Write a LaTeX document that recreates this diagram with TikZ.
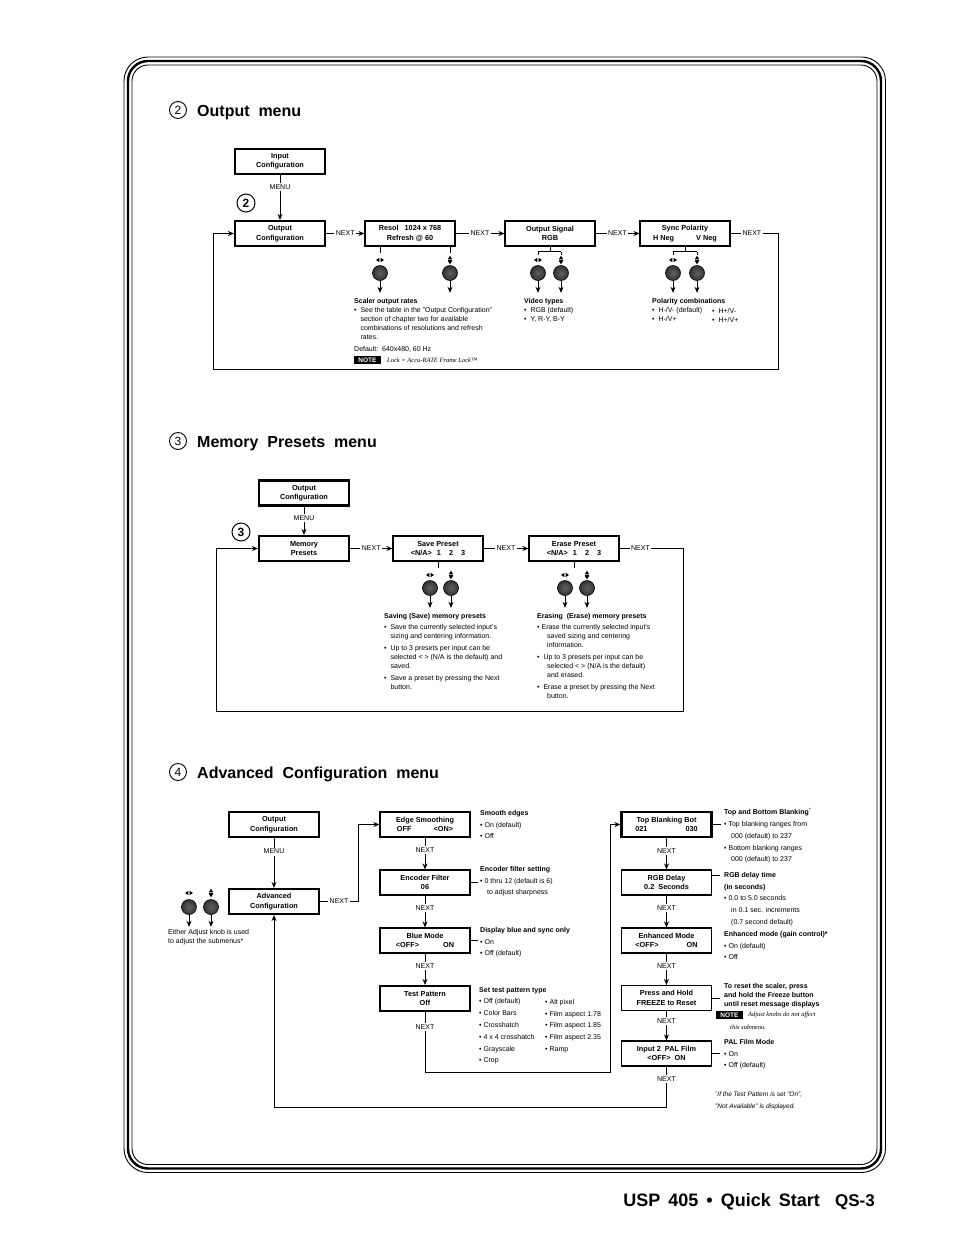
\documentclass[tikz,border=0pt]{standalone}
\usepackage{fontspec}
\setmainfont{Liberation Sans}
\newfontfamily\notefont{Liberation Serif}
\usetikzlibrary{arrows.meta}

\tikzset{
  menubox/.style={draw, line width=2.2pt, minimum width=90pt, minimum height=25pt, align=center, inner sep=1pt, font=\bfseries\fontsize{7.3}{9.5}\selectfont},
  subbox/.style={menubox, line width=1.2pt},
  flow/.style={line width=0.8pt, -{Stealth[length=6pt,width=5pt]}},
  link/.style={line width=0.8pt},
  lbl/.style={fill=white, inner sep=1.5pt, font=\fontsize{7}{8}\selectfont},
  knob/.style={circle, draw, line width=0.6pt, minimum size=15pt, inner sep=0pt, shading=radial, inner color=gray!75!black, outer color=gray!40!black},
  desc/.style={anchor=north west, inner sep=0pt, align=left, font=\fontsize{7}{9}\selectfont},
  descwide/.style={desc, font=\fontsize{7}{11.8}\selectfont},
  notetag/.style={fill=black, text=white, inner sep=0pt, minimum width=27pt, minimum height=8.5pt, font=\bfseries\fontsize{6.5}{7}\selectfont},
  notetxt/.style={anchor=west, inner sep=0pt, font=\notefont\itshape\fontsize{6.5}{8}\selectfont},
  numcirc/.style={circle, draw, line width=0.9pt, minimum size=17pt, inner sep=0pt, font=\fontsize{12}{12}\selectfont},
  bigcirc/.style={numcirc, line width=1pt, minimum size=18pt, font=\bfseries\fontsize{12}{12}\selectfont},
  heading/.style={anchor=base west, inner sep=0pt, font=\bfseries\fontsize{16}{18}\selectfont},
  lrmark/.pic={\fill (-0.6,-2.2) -- (-0.6,2.2) -- (-4,0) -- cycle;
    \fill (0.6,-2.2) -- (0.6,2.2) -- (4,0) -- cycle;},
  udmark/.pic={\fill (-2.2,-0.7) -- (2.2,-0.7) -- (0,-4.3) -- cycle;
    \fill (-2.2,0.7) -- (2.2,0.7) -- (0,4.3) -- cycle;
    \draw[line width=0.4pt] (-2.2,0) -- (2.2,0);}
}

\begin{document}
\begin{tikzpicture}[x=1pt, y=-1pt]
  \useasboundingbox (0,0) rectangle (954,1235);

  % Page frame (three rounded lines)
  \draw[line width=0.9pt, rounded corners=24pt] (124,57) rectangle (885.5,1172.5);
  \draw[line width=2.4pt, rounded corners=20pt] (128,61) rectangle (881,1168.5);
  \draw[line width=0.9pt, rounded corners=16pt] (132,65) rectangle (877,1164.5);

  % ---------------- Output menu ----------------
  \node[numcirc] (h2) at (178,110) {2};
  \node[heading] (h2txt) at (197,116) {Output\ \ menu};

  \node[menubox] (inpcfg) at (280,161.5) {Input\\Configuration};
  \node[menubox] (outcfg) at (280,233.5) {Output\\Configuration};
  \node[bigcirc] (mark2) at (246,203) {2};
  \node[subbox] (resol) at (410,233.5) {Resol\hspace{6pt}1024 x 768\\Refresh @ 60};
  \node[subbox] (osig) at (550,233.5) {Output Signal\\RGB};
  \node[subbox] (sync) at (685,233.5) {Sync Polarity\\H Neg\hspace{22pt}V Neg};

  \draw[flow] (inpcfg) -- node[lbl, pos=0.27] {MENU} (outcfg);
  \draw[flow] (outcfg) -- node[lbl] {NEXT} (resol);
  \draw[flow] (resol) -- node[lbl] {NEXT} (osig);
  \draw[flow] (osig) -- node[lbl] {NEXT} (sync);
  \coordinate (loopR2) at (778,369);
  \coordinate (loopL2) at (213,369);
  \draw[flow] (sync.east) -- node[lbl, pos=0.45] {NEXT} (sync.east -| loopR2) -- (loopR2) -- (loopL2) |- (outcfg.west); % back to the top

  % Knobs under the submenus
  \node[knob] (kres1) at (380,273) {};
  \node[knob] (kres2) at (450,273) {};
  \node[knob] (ksig1) at (538,273) {};
  \node[knob] (ksig2) at (561,273) {};
  \node[knob] (ksyn1) at (673,273) {};
  \node[knob] (ksyn2) at (697,273) {};
  \pic at (380,260) {lrmark};
  \pic at (450,260) {udmark};
  \pic at (538,260) {lrmark};
  \pic at (561,260) {udmark};
  \pic at (673,260) {lrmark};
  \pic at (697,260) {udmark};
  \draw[link] (resol.south -| kres1) -- ++(0,6);
  \draw[link] (resol.south -| kres2) -- ++(0,6);
  \draw[link] (osig.south) -- ++(0,5) coordinate (bsig);
  \draw[link] (bsig -| ksig1) -- (bsig -| ksig2);
  \draw[link] (bsig -| ksig1) -- ++(0,3);
  \draw[link] (bsig -| ksig2) -- ++(0,3);
  \draw[link] (sync.south) -- ++(0,5) coordinate (bsyn);
  \draw[link] (bsyn -| ksyn1) -- (bsyn -| ksyn2);
  \draw[link] (bsyn -| ksyn1) -- ++(0,3);
  \draw[link] (bsyn -| ksyn2) -- ++(0,3);
  \foreach \k in {kres1,kres2,ksig1,ksig2,ksyn1,ksyn2}
    \draw[flow] (\k.south) -- ++(0,12);

  % Notes under the knobs
  \node[desc] (scaler) at (354,298) {\textbf{Scaler output rates}\\
    •\ \ See the table in the "Output Configuration"\\
    \phantom{•\ \ }section of chapter two for available\\
    \phantom{•\ \ }combinations of resolutions and refresh\\
    \phantom{•\ \ }rates.\\[3pt]
    Default:\ \ 640x480, 60 Hz};
  \node[notetag] (note1) at (367.5,360) {NOTE};
  \node[notetxt] (lock) at (387,360) {Lock = Accu-RATE Frame Lock™};
  \node[desc] (video) at (524,298) {\textbf{Video types}\\•\ \ RGB (default)\\•\ \ Y, R-Y, B-Y};
  \node[desc] (polar) at (652,298) {\textbf{Polarity combinations}\\•\ \ H-/V- (default)\\•\ \ H-/V+};
  \node[desc] (polar2) at (712,308) {•\ \ H+/V-\\•\ \ H+/V+};

  % ---------------- Memory Presets menu ----------------
  \node[numcirc] (h3) at (178,441) {3};
  \node[heading] (h3txt) at (197,447) {Memory\ \ Presets\ \ menu};

  \node[menubox] (mocfg) at (304,493) {Output\\Configuration};
  \node[menubox] (mem) at (304,548.5) {Memory\\Presets};
  \node[bigcirc] (mark3) at (241,532) {3};
  \node[subbox] (save) at (438,548.5) {Save Preset\\<N/A>\hspace{5pt}1\hspace{8pt}2\hspace{8pt}3};
  \node[subbox] (erase) at (574,548.5) {Erase Preset\\<N/A>\hspace{5pt}1\hspace{8pt}2\hspace{8pt}3};

  \draw[flow] (mocfg) -- node[lbl, pos=0.4] {MENU} (mem);
  \draw[flow] (mem) -- node[lbl] {NEXT} (save);
  \draw[flow] (save) -- node[lbl] {NEXT} (erase);
  \coordinate (loopR3) at (683,711);
  \coordinate (loopL3) at (216,711);
  \draw[flow] (erase.east) -- node[lbl, pos=0.33] {NEXT} (erase.east -| loopR3) -- (loopR3) -- (loopL3) |- (mem.west);

  \node[knob] (ksav1) at (430,588) {};
  \node[knob] (ksav2) at (451,588) {};
  \node[knob] (kera1) at (565,588) {};
  \node[knob] (kera2) at (587,588) {};
  \pic at (430,575) {lrmark};
  \pic at (451,575) {udmark};
  \pic at (565,575) {lrmark};
  \pic at (587,575) {udmark};
  \draw[link] (save.south) -- ++(0,6);
  \draw[link] (erase.south) -- ++(0,6);
  \foreach \k in {ksav1,ksav2,kera1,kera2}
    \draw[flow] (\k.south) -- ++(0,12);

  \node[desc] (savetxt) at (384,613) {\textbf{Saving (Save) memory presets}\\[2pt]
    •\ \ Save the currently selected input's\\
    \phantom{•\ \ }sizing and centering information.\\[3pt]
    •\ \ Up to 3 presets per input can be\\
    \phantom{•\ \ }selected < > (N/A is the default) and\\
    \phantom{•\ \ }saved.\\[3pt]
    •\ \ Save a preset by pressing the Next\\
    \phantom{•\ \ }button.};
  \node[desc] (erasetxt) at (537,613) {\textbf{Erasing\ \ (Erase) memory presets}\\[2pt]
    • Erase the currently selected input's\\
    \hspace*{10pt}saved sizing and centering\\
    \hspace*{10pt}information.\\[3pt]
    •\ \ Up to 3 presets per input can be\\
    \hspace*{10pt}selected < > (N/A is the default)\\
    \hspace*{10pt}and erased.\\[3pt]
    •\ \ Erase a preset by pressing the Next\\
    \hspace*{10pt}button.};

  % ---------------- Advanced Configuration menu ----------------
  \node[numcirc] (h4) at (178,772) {4};
  \node[heading] (h4txt) at (197,778) {Advanced\ \ Configuration\ \ menu};

  \node[menubox] (aocfg) at (274,824.5) {Output\\Configuration};
  \node[menubox] (adv) at (274,901.5) {Advanced\\Configuration};
  \node[subbox] (edge) at (425,824.5) {Edge Smoothing\\OFF\hspace{22pt}<ON>};
  \node[subbox] (enc) at (425,882.5) {Encoder Filter\\06};
  \node[subbox] (blue) at (425,940.5) {Blue Mode\\<OFF>\hspace{24pt}ON};
  \node[menubox] (test) at (425,998.5) {Test Pattern\\Off};
  \node[menubox] (topb) at (666.5,824.5) {Top Blanking Bot\\021\hspace{38pt}030};
  \node[subbox] (rgbd) at (666.5,882.5) {RGB Delay\\0.2\ \ Seconds};
  \node[subbox] (enh) at (666.5,940.5) {Enhanced Mode\\<OFF>\hspace{28pt}ON};
  \node[subbox] (press) at (666.5,998) {Press and Hold\\FREEZE to Reset};
  \node[subbox] (pal) at (666.5,1053.5) {Input 2\ \ PAL Film\\<OFF>\ \ ON};

  \draw[flow] (aocfg) -- node[lbl, pos=0.27] {MENU} (adv);
  \coordinate (jumpA) at (358,826);
  \draw[flow] (adv.east) -- node[lbl] {NEXT} (adv.east -| jumpA) |- (edge.west);
  \draw[flow] (edge) -- node[lbl, pos=0.4] {NEXT} (enc);
  \draw[flow] (enc) -- node[lbl, pos=0.4] {NEXT} (blue);
  \draw[flow] (blue) -- node[lbl, pos=0.4] {NEXT} (test);
  \coordinate (jumpB) at (610,1072);
  \draw[flow] (test.south) -- node[lbl, pos=0.25] {NEXT} (test.south |- jumpB) -- (jumpB) |- (topb.west);
  \draw[flow] (topb) -- node[lbl, pos=0.4] {NEXT} (rgbd);
  \draw[flow] (rgbd) -- node[lbl, pos=0.4] {NEXT} (enh);
  \draw[flow] (enh) -- node[lbl, pos=0.4] {NEXT} (press);
  \draw[flow] (press) -- node[lbl, pos=0.35] {NEXT} (pal);
  \coordinate (backR) at (666.5,1107);
  \coordinate (backL) at (274,1107);
  \draw[flow] (pal.south) -- node[lbl, pos=0.3] {NEXT} (backR) -- (backL) -- (adv.south); % back to Advanced

  % small ticks from boxes to their notes
  \draw[link] (enc.east) -- ++(7,0);
  \draw[link] (blue.east) -- ++(7,0);
  \draw[link] (topb.east) -- ++(8,0);
  \draw[link] ([yshift=7pt]rgbd.east) -- ++(8,0);
  \draw[link] (press.east) -- ++(8,0);
  \draw[link] (pal.east) -- ++(8,0);

  % Adjust knobs on the left
  \node[knob] (kadv1) at (189,907) {};
  \node[knob] (kadv2) at (211,907) {};
  \pic at (189,893) {lrmark};
  \pic at (211,893) {udmark};
  \draw[flow] (kadv1.south) -- ++(0,12);
  \draw[flow] (kadv2.south) -- ++(0,12);
  \node[desc] (eithertxt) at (168,929) {Either Adjust knob is used\\to adjust the submenus*};

  % Notes, first column
  \node[descwide] (smoothtxt) at (480,810) {\textbf{Smooth edges}\\• On (default)\\• Off};
  \node[descwide] (enctxt) at (480,866) {\textbf{Encoder filter setting}\\• 0 thru 12 (default is 6)\\\hspace*{7pt}to adjust sharpness};
  \node[descwide] (bluetxt) at (480,927) {\textbf{Display blue and sync only}\\• On\\• Off (default)};
  \node[descwide] (testtxt) at (479,987) {\textbf{Set test pattern type}\\• Off (default)\\• Color Bars\\• Crosshatch\\• 4 x 4 crosshatch\\• Grayscale\\• Crop};
  \node[descwide] (testtxt2) at (545,999) {• Alt pixel\\• Film aspect 1.78\\• Film aspect 1.85\\• Film aspect 2.35\\• Ramp};

  % Notes, second column
  \node[descwide] (blanktxt) at (724,808) {\textbf{Top and Bottom Blanking}\textsuperscript{*}\\• Top blanking ranges from\\\hspace*{7pt}000 (default) to 237\\• Bottom blanking ranges\\\hspace*{7pt}000 (default) to 237};
  \node[descwide] (delaytxt) at (724,872) {\textbf{RGB delay time}\\\textbf{(in seconds)}\\• 0.0 to 5.0 seconds\\\hspace*{7pt}in 0.1 sec. increments\\\hspace*{7pt}(0.7 second default)};
  \node[descwide] (enhtxt) at (724,931) {\textbf{Enhanced mode (gain control)*}\\• On (default)\\• Off};
  \node[desc] (resettxt) at (724,983) {\textbf{To reset the scaler, press}\\\textbf{and hold the Freeze button}\\\textbf{until reset message displays}};
  \node[notetag] (note2) at (729.5,1015) {NOTE};
  \node[notetxt] (adjtxt) at (748,1015) {Adjust knobs do not affect};
  \node[notetxt] (adjtxt2) at (730,1027) {this submenu.};
  \node[descwide] (paltxt) at (724,1039) {\textbf{PAL Film Mode}\\• On\\• Off (default)};
  \node[descwide, font=\itshape\fontsize{6.5}{11.8}\selectfont] (foottxt) at (715,1091) {\textsuperscript{*}If the Test Pattern is set "On",\\"Not Available" is displayed.};

  % Footer
  \node[anchor=base east, inner sep=0pt, font=\bfseries\fontsize{17}{20}\selectfont] (pgnum) at (875,1206) {QS-3};
  \node[anchor=base east, inner sep=0pt, font=\bfseries\fontsize{18}{20}\selectfont] (pgtitle) at (820,1206) {USP\hspace{8pt}405\hspace{8pt}•\hspace{8pt}Quick\hspace{8pt}Start};
\end{tikzpicture}
\end{document}
